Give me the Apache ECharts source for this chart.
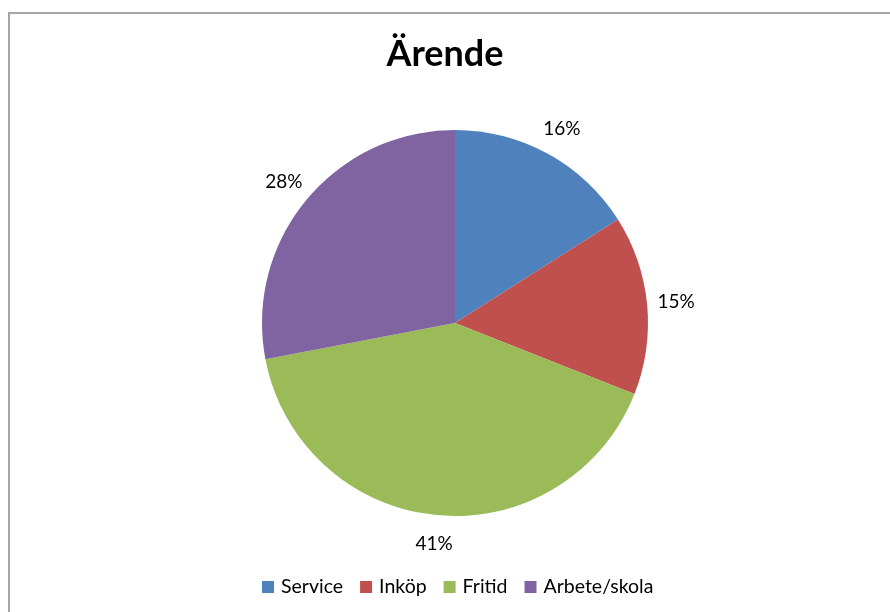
<!DOCTYPE html>
<html>
<head>
<meta charset="utf-8">
<script src="https://cdn.jsdelivr.net/npm/echarts@6/dist/echarts.min.js"></script>
<style>
  html, body { margin: 0; padding: 0; background: #fff; }
  #chart { width: 890px; height: 612px; }
</style>
</head>
<body>
<div id="chart"></div>
<script>
const categories = ['Service', 'Inköp', 'Fritid', 'Arbete/skola']
const shares = [16, 15, 41, 28]
const colors = ['#4F81BD', '#C0504D', '#9BBB59', '#8064A2']

const chart = echarts.init(document.getElementById('chart'))

chart.setOption({
  animation: false,
  color: colors,
  title: {
    text: 'Ärende',
    left: 'center',
    top: 31,
    textStyle: { fontFamily: 'Lato', fontSize: 36, fontWeight: 'bold', color: '#000' }
  },
  legend: {
    bottom: 10,
    left: 257,
    itemWidth: 12,
    itemHeight: 12,
    itemGap: 17,
    selectedMode: false,
    icon: 'rect',
    textStyle: { fontFamily: 'Lato', fontSize: 19.5, color: '#000', padding: [0, 0, 0, 2] },
    data: categories
  },
  // frame round the chart area (only top and left edges visible)
  graphic: [{
    type: 'rect',
    shape: { x: 9, y: 13, width: 1200, height: 1200 },
    style: { fill: 'none', stroke: '#a6a6a6', lineWidth: 2 },
    silent: true
  }],
  series: [{
    type: 'pie',
    center: [455, 323],
    radius: 193,
    startAngle: 90,
    clockwise: true,
    data: categories.map((name, i) => ({ name, value: shares[i] })),
    label: {
      position: 'outside',
      formatter: '{c}%',
      fontFamily: 'Lato',
      fontSize: 19,
      color: '#000',
      distanceToLabelLine: 0
    },
    labelLine: { show: false, length: 29, length2: 0 },
    labelLayout: function (p) {
      const w = p.labelRect.width
      return { dx: p.align === 'right' ? w / 2 : -w / 2 }
    },
    itemStyle: { borderWidth: 0 },
    emphasis: { disabled: true }
  }]
})
</script>
</body>
</html>
